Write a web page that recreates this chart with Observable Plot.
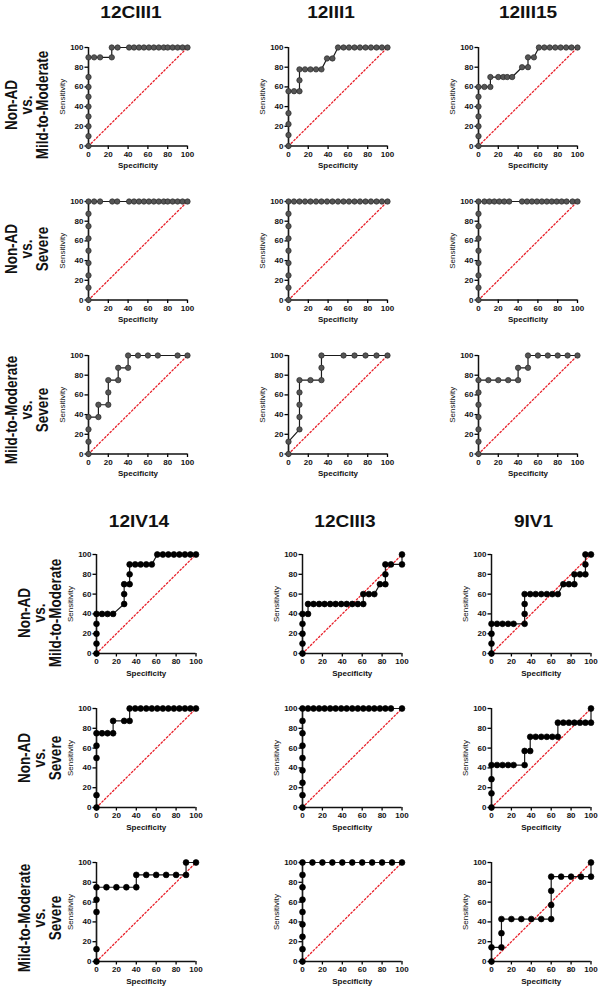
<!DOCTYPE html>
<html>
<head>
<meta charset="utf-8">
<script src="https://cdn.jsdelivr.net/npm/d3@7"></script>
<script src="https://cdn.jsdelivr.net/npm/@observablehq/plot@0.6"></script>
<style>
  html, body { margin: 0; padding: 0; background: #fff; }
  #root { position: relative; width: 600px; height: 992px; overflow: hidden; font-family: "Liberation Sans", Arial, sans-serif; }
  #root svg.panel { position: absolute; background: transparent; overflow: visible; }
  #overlay { position: absolute; left: 0; top: 0; z-index: 5; pointer-events: none; }
</style>
</head>
<body>
<div id="root"></div>
<script>
// ---------- data ----------
const markersTop = ["12CIII1", "12III1", "12III15"];
const markersBottom = ["12IV14", "12CIII3", "9IV1"];
const rowLabels = [
  ["Non-AD", "vs.", "Mild-to-Moderate"],
  ["Non-AD", "vs.", "Severe"],
  ["Mild-to-Moderate", "vs.", "Severe"]
];
const xTicks = [0, 20, 40, 60, 80, 100];
const yTicks = [0, 20, 40, 60, 80, 100];
const xLabel = "Specificity";
const yLabel = "Sensitivity";
const diag = [0, 100];

// Row 1: Non-AD vs Mild-to-Moderate (top group)
const x_12CIII1_nm = [0,0,0,0,0,0,0,0,0,5.7,11.7,23.5,23.5,29.4,41,46,51,56,61,66,71,76,80,85,90,95,100];
const y_12CIII1_nm = [0,10,20,30,40,50,60,70,90,90,90,90,100,100,100,100,100,100,100,100,100,100,100,100,100,100,100];
const x_12III1_nm = [0,0,0,0,0,5.6,11.1,11.1,11.1,16.7,22.2,27.8,33.3,38.9,44.4,50,55.6,61.1,66.7,72.2,77.8,83.3,88.9,94.4,100];
const y_12III1_nm = [0,11.1,22.2,33.3,55.6,55.6,55.6,66.7,77.8,77.8,77.8,77.8,77.8,88.9,88.9,100,100,100,100,100,100,100,100,100,100];
const x_12III15_nm = [0,0,0,0,0,0,0,6,12,12,20,25,29,34,44,50,50,56,61,66.5,72,77.5,83,88.5,94,100];
const y_12III15_nm = [0,10,20,30,40,50,60,60,60,70,70,70,70,70,80,80,90,90,100,100,100,100,100,100,100,100];

// Row 2: Non-AD vs Severe (top group)
const x_12CIII1_ns = [0,0,0,0,0,0,0,0,0,5.7,11.7,24,29,41,46,51,56,61,66,71,76,80,85,90,95,100];
const y_12CIII1_ns = [0,12.5,25,37.5,50,62.5,75,87.5,100,100,100,100,100,100,100,100,100,100,100,100,100,100,100,100,100,100];
const x_12III1_ns = [0,0,0,0,0,0,0,0,0,5.56,11.1,16.7,22.2,27.8,33.3,38.9,44.4,50,55.6,61.1,66.7,72.2,77.8,83.3,88.9,94.4,100];
const y_12III1_ns = [0,12.5,25,37.5,50,62.5,75,87.5,100,100,100,100,100,100,100,100,100,100,100,100,100,100,100,100,100,100,100];
const x_12III15_ns = [0,0,0,0,0,0,0,0,0,6,11,16,21,26,31,44,49,54,59,64,69,74,79,84,89,95,100];
const y_12III15_ns = [0,12.5,25,37.5,50,62.5,75,87.5,100,100,100,100,100,100,100,100,100,100,100,100,100,100,100,100,100,100,100];

// Row 3: Mild-to-Moderate vs Severe (top group)
const x_12CIII1_ms = [0,0,0,0,10,10,20,20,20,30,30,40,40,50,60,70,90,100];
const y_12CIII1_ms = [0,12.5,25,37.5,37.5,50,50,62.5,75,75,87.5,87.5,100,100,100,100,100,100];
const x_12III1_ms = [0,0,11.1,11.1,11.1,11.1,11.1,22.2,33.3,33.3,33.3,55.6,66.7,77.8,88.9,100];
const y_12III1_ms = [0,12.5,25,37.5,50,62.5,75,75,75,87.5,100,100,100,100,100,100];
const x_12III15_ms = [0,0,0,0,0,0,0,10,20,30,40,40,50,50,60,70,80,90,100];
const y_12III15_ms = [0,12.5,25,37.5,50,62.5,75,75,75,75,75,87.5,87.5,100,100,100,100,100,100];

// Row 4: Non-AD vs Mild-to-Moderate (bottom group)
const x_12IV14_nm = [0,0,0,0,0,5.56,11.1,16.7,27.8,27.8,27.8,33.3,33.3,33.3,38.9,44.4,50,55.6,61.1,66.7,72.2,77.8,83.3,88.9,94.4,100];
const y_12IV14_nm = [0,10,20,30,40,40,40,40,50,60,70,70,80,90,90,90,90,90,100,100,100,100,100,100,100,100];
const x_12CIII3_nm = [0,0,0,0,0,5.56,5.56,11.1,16.7,22.2,27.8,33.3,38.9,44.4,50,55.6,61.1,61.1,66.7,72.2,77.8,83.3,83.3,83.3,88.9,100,100];
const y_12CIII3_nm = [0,10,20,30,40,40,50,50,50,50,50,50,50,50,50,50,50,60,60,60,70,70,80,90,90,90,100];
const x_9IV1_nm = [0,0,0,0,5.56,11.1,16.7,22.2,33.3,33.3,33.3,33.3,38.9,44.4,50,55.6,61.1,66.7,72.2,77.8,83.3,83.3,88.9,94.4,94.4,94.4,100];
const y_9IV1_nm = [0,10,20,30,30,30,30,30,30,40,50,60,60,60,60,60,60,60,70,70,70,80,80,80,90,100,100];

// Row 5: Non-AD vs Severe (bottom group)
const x_12IV14_ns = [0,0,0,0,0,5.56,11.1,16.7,16.7,27.8,33.3,33.3,38.9,44.4,50,55.6,61.1,66.7,72.2,77.8,83.3,88.9,94.4,100];
const y_12IV14_ns = [0,12.5,50,62.5,75,75,75,75,87.5,87.5,87.5,100,100,100,100,100,100,100,100,100,100,100,100,100];
const x_12CIII3_ns = [0,0,0,0,0,0,0,0,0,5.56,11.1,16.7,22.2,27.8,33.3,38.9,44.4,50,55.6,61.1,66.7,72.2,77.8,83.3,88.9,100];
const y_12CIII3_ns = [0,12.5,25,37.5,50,62.5,75,87.5,100,100,100,100,100,100,100,100,100,100,100,100,100,100,100,100,100,100];
const x_9IV1_ns = [0,0,0,0,5.56,11.1,16.7,22.2,33.3,33.3,38.9,38.9,44.4,50,55.6,61.1,66.7,66.7,72.2,77.8,83.3,88.9,94.4,100,100];
const y_9IV1_ns = [0,14.3,28.6,42.9,42.9,42.9,42.9,42.9,42.9,57.1,57.1,71.4,71.4,71.4,71.4,71.4,71.4,85.7,85.7,85.7,85.7,85.7,85.7,85.7,100];

// Row 6: Mild-to-Moderate vs Severe (bottom group)
const x_12IV14_ms = [0,0,0,0,0,10,20,30,40,40,50,60,70,80,90,90,100];
const y_12IV14_ms = [0,12.5,50,62.5,75,75,75,75,75,87.5,87.5,87.5,87.5,87.5,87.5,100,100];
const x_12CIII3_ms = [0,0,0,0,0,0,0,0,0,10,20,30,40,50,60,70,80,90,100];
const y_12CIII3_ms = [0,12.5,25,37.5,50,62.5,75,87.5,100,100,100,100,100,100,100,100,100,100,100];
const x_9IV1_ms = [0,0,10,10,10,20,30,40,50,60,60,60,60,70,80,90,100,100];
const y_9IV1_ms = [0,14.3,14.3,28.6,42.9,42.9,42.9,42.9,42.9,42.9,57.1,71.4,85.7,85.7,85.7,85.7,85.7,100];

const seriesX = [
  [x_12CIII1_nm, x_12III1_nm, x_12III15_nm],
  [x_12CIII1_ns, x_12III1_ns, x_12III15_ns],
  [x_12CIII1_ms, x_12III1_ms, x_12III15_ms],
  [x_12IV14_nm, x_12CIII3_nm, x_9IV1_nm],
  [x_12IV14_ns, x_12CIII3_ns, x_9IV1_ns],
  [x_12IV14_ms, x_12CIII3_ms, x_9IV1_ms]
];
const seriesY = [
  [y_12CIII1_nm, y_12III1_nm, y_12III15_nm],
  [y_12CIII1_ns, y_12III1_ns, y_12III15_ns],
  [y_12CIII1_ms, y_12III1_ms, y_12III15_ms],
  [y_12IV14_nm, y_12CIII3_nm, y_9IV1_nm],
  [y_12IV14_ns, y_12CIII3_ns, y_9IV1_ns],
  [y_12IV14_ms, y_12CIII3_ms, y_9IV1_ms]
];

// ---------- layout ----------
const FONT = '"Liberation Sans", Arial, Helvetica, sans-serif';
const ML = 40, MR = 12, MT = 8, MB = 28;
const groupLayout = [
  { x0: [88, 288, 477.5], plotW: 99, y100: [47.3, 200.7, 355], plotH: 98.5,
    dotFill: "#555", dotStroke: "#2a2a2a", r: 2.7,
    titleX: [131, 331, 528], titleBase: 18.3,
    labelCY: [105, 249, 410], labelBase: [17, 32.5, 48.5] },
  { x0: [96.3, 301.7, 491], plotW: 99.5, y100: [554, 708.3, 862.3], plotH: 99,
    dotFill: "#000", dotStroke: "#000", r: 2.9,
    titleX: [139, 345, 533.5], titleBase: 526.8,
    labelCY: [613, 758, 918], labelBase: [30, 45.5, 61] }
];

const root = document.getElementById("root");

function panel(xs, ys, g, col, row) {
  const L = groupLayout[g];
  const data = xs.map((x, i) => ({ x, y: ys[i] }));
  const svg = Plot.plot({
    width: ML + L.plotW + MR,
    height: MT + L.plotH + MB,
    marginLeft: ML, marginRight: MR, marginTop: MT, marginBottom: MB,
    x: { domain: [0, 100], axis: null },
    y: { domain: [0, 100], axis: null },
    style: { fontFamily: FONT, fontSize: "8px", background: "transparent", overflow: "visible" },
    marks: [
      Plot.line([0, 1].map(i => ({ x: diag[i], y: diag[i] })), { x: "x", y: "y", stroke: "#e8202a", strokeWidth: 1.3, strokeDasharray: "1.6,2.2" }),
      Plot.axisX({ ticks: xTicks, tickSize: 3.5, tickPadding: 1.5, fontWeight: "bold", fontSize: 8, strokeWidth: 1.3, label: null, fill: "#111" }),
      Plot.axisY({ ticks: yTicks, tickSize: 3.5, tickPadding: 1.5, fontWeight: "bold", fontSize: 8, strokeWidth: 1.3, label: null, fill: "#111" }),
      Plot.ruleY([0], { strokeWidth: 1.5, stroke: "#111" }),
      Plot.ruleX([0], { strokeWidth: 1.5, stroke: "#111" }),
      Plot.line(data, { x: "x", y: "y", stroke: "#1a1a1a", strokeWidth: 1.2 }),
      Plot.dot(data, { x: "x", y: "y", r: L.r, fill: L.dotFill, stroke: L.dotStroke, strokeWidth: 0.7 }),
      Plot.text([xLabel], { text: d => d, frameAnchor: "bottom", lineAnchor: "middle", textAnchor: "middle", dy: 19.5, fontWeight: "bold", fontSize: 8, fill: "#111" }),
      Plot.text([yLabel], { text: d => d, frameAnchor: "left", lineAnchor: "middle", textAnchor: "middle", dx: -26, rotate: -90, fontSize: 8, fill: "#111" })
    ]
  });
  svg.classList.add("panel");
  svg.style.left = (L.x0[col] - ML) + "px";
  svg.style.top = (L.y100[row] - MT) + "px";
  root.appendChild(svg);
}

for (let r = 0; r < 6; r++) {
  const g = r < 3 ? 0 : 1;
  for (let c = 0; c < 3; c++) panel(seriesX[r][c], seriesY[r][c], g, c, r % 3);
}

// ---------- titles and row labels ----------
const NS = "http://www.w3.org/2000/svg";
const ov = document.createElementNS(NS, "svg");
ov.setAttribute("id", "overlay");
ov.setAttribute("width", 600);
ov.setAttribute("height", 992);
root.appendChild(ov);

function addText(parent, str, attrs) {
  const t = document.createElementNS(NS, "text");
  for (const k in attrs) t.setAttribute(k, attrs[k]);
  t.textContent = str;
  parent.appendChild(t);
  return t;
}

[markersTop, markersBottom].forEach((names, g) => {
  const L = groupLayout[g];
  names.forEach((name, c) => {
    const grp = document.createElementNS(NS, "g");
    grp.setAttribute("transform", `translate(${L.titleX[c]},${L.titleBase}) scale(1.19,1)`);
    addText(grp, name, { "text-anchor": "middle", "font-family": FONT, "font-weight": "bold", "font-size": 16, fill: "#111" });
    ov.appendChild(grp);
  });
  rowLabels.forEach((lines, r) => {
    const grp = document.createElementNS(NS, "g");
    grp.setAttribute("transform", `translate(0,${L.labelCY[r]}) scale(1.2,1) rotate(-90)`);
    lines.forEach((ln, i) => {
      addText(grp, ln, { x: 0, y: L.labelBase[i] / 1.2, "text-anchor": "middle", "font-family": FONT, "font-weight": "bold", "font-size": 13.5, fill: "#111" });
    });
    ov.appendChild(grp);
  });
});
</script>
</body>
</html>
